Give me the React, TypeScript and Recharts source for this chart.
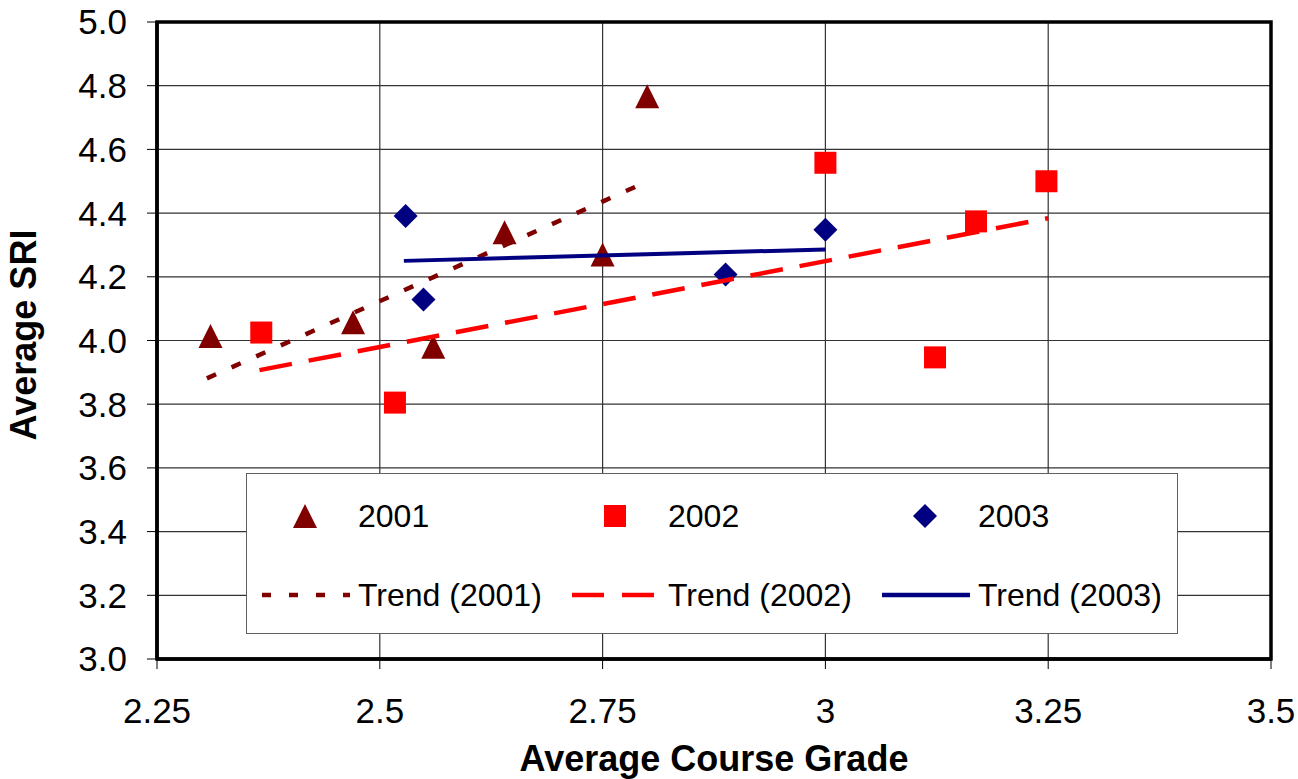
import React from 'react';
import {
  ScatterChart,
  Scatter,
  XAxis,
  YAxis,
  CartesianGrid,
  ReferenceArea,
  Label,
} from 'recharts';

// points
const grades2001 = [2.31, 2.47, 2.56, 2.64, 2.75, 2.8];
const sri2001 = [4.014, 4.057, 3.98, 4.34, 4.27, 4.767];
const grades2002 = [2.367, 2.517, 3.0, 3.123, 3.169, 3.248];
const sri2002 = [4.025, 3.805, 4.558, 3.947, 4.374, 4.5];
const grades2003 = [2.529, 2.549, 2.888, 3.0];
const sri2003 = [4.391, 4.129, 4.207, 4.348];

// trend line ends
const trendX2001 = [2.306, 2.8];
const trendY2001 = [3.881, 4.499];
const trendX2002 = [2.365, 3.25];
const trendY2002 = [3.907, 4.384];
const trendX2003 = [2.527, 3.0];
const trendY2003 = [4.25, 4.286];

const xTicks = [2.25, 2.5, 2.75, 3, 3.25, 3.5];
const yTicks = [3.0, 3.2, 3.4, 3.6, 3.8, 4.0, 4.2, 4.4, 4.6, 4.8, 5.0];

const FONT = '"Liberation Sans", Arial, Helvetica, sans-serif';
const C2001 = '#800000';
const C2002 = '#ff0000';
const C2003 = '#000080';

const toPoints = (xs: number[], ys: number[]) => xs.map((x, i) => ({ x, y: ys[i] }));

const Triangle = (props: any) => {
  const { cx, cy, fill } = props;
  return <polygon points={`${cx},${cy - 12} ${cx + 12},${cy + 12} ${cx - 12},${cy + 12}`} fill={fill} />;
};

const Square = (props: any) => {
  const { cx, cy, fill } = props;
  return <rect x={cx - 11} y={cy - 11} width={22} height={22} fill={fill} />;
};

const Diamond = (props: any) => {
  const { cx, cy, fill } = props;
  return <polygon points={`${cx},${cy - 12} ${cx + 12},${cy} ${cx},${cy + 12} ${cx - 12},${cy}`} fill={fill} />;
};

const NoDot = () => <g />;

const legendItems = [
  { label: '2001', kind: 'marker', shape: 'triangle', color: C2001, col: 0, row: 0 },
  { label: '2002', kind: 'marker', shape: 'square', color: C2002, col: 1, row: 0 },
  { label: '2003', kind: 'marker', shape: 'diamond', color: C2003, col: 2, row: 0 },
  { label: 'Trend (2001)', kind: 'line', dash: '9 18', color: C2001, col: 0, row: 1 },
  { label: 'Trend (2002)', kind: 'line', dash: '32 18', color: C2002, col: 1, row: 1 },
  { label: 'Trend (2003)', kind: 'line', dash: undefined, color: C2003, col: 2, row: 1 },
];

const LegendIcon = ({ item }: { item: any }) => {
  if (item.kind === 'line') {
    return (
      <svg width={100} height={40}>
        <line x1={4} y1={20} x2={92} y2={20} stroke={item.color} strokeWidth={4.5} strokeDasharray={item.dash} />
      </svg>
    );
  }
  const p = { cx: 47, cy: 20, fill: item.color };
  return (
    <svg width={100} height={40}>
      {item.shape === 'triangle' && <Triangle {...p} />}
      {item.shape === 'square' && <Square {...p} />}
      {item.shape === 'diamond' && <Diamond {...p} />}
    </svg>
  );
};

const ChartLegend = () => (
  <div
    style={{
      position: 'absolute',
      left: 246,
      top: 473,
      width: 932,
      height: 161,
      boxSizing: 'border-box',
      border: '1.5px solid #606060',
      background: '#fff',
      fontFamily: FONT,
      fontSize: 32,
      color: '#000',
    }}
  >
    {legendItems.map((item) => (
      <div
        key={item.label}
        style={{
          position: 'absolute',
          left: 11 + item.col * 310,
          top: (item.row === 0 ? 42 : 121) - 20,
          height: 40,
          display: 'flex',
          alignItems: 'center',
          whiteSpace: 'nowrap',
        }}
      >
        <LegendIcon item={item} />
        <span>{item.label}</span>
      </div>
    ))}
  </div>
);

const App = () => {
  return (
    <div style={{ position: 'absolute', left: 0, top: 0, width: 1298, height: 779, background: '#fff' }}>
      <ScatterChart width={1298} height={779} margin={{ top: 22, right: 27, bottom: 0, left: 0 }}>
        <CartesianGrid stroke="#333" strokeWidth={1.2} />
        <XAxis
          type="number"
          dataKey="x"
          domain={[2.25, 3.5]}
          ticks={xTicks}
          height={120}
          tickSize={10}
          tickMargin={29}
          tickLine={{ stroke: '#000' }}
          axisLine={{ stroke: '#000', strokeWidth: 3.5 }}
          tick={{ fill: '#000', fontSize: 35, fontFamily: FONT }}
        >
          <Label
            content={() => (
              <text x={714} y={771} textAnchor="middle" fontFamily={FONT} fontSize={36} fontWeight="bold" fill="#000">
                Average Course Grade
              </text>
            )}
          />
        </XAxis>
        <YAxis
          type="number"
          dataKey="y"
          domain={[3, 5]}
          ticks={yTicks}
          width={157}
          tickSize={10}
          tickMargin={20}
          tickLine={{ stroke: '#000' }}
          axisLine={{ stroke: '#000', strokeWidth: 3.5 }}
          tick={{ fill: '#000', fontSize: 35, fontFamily: FONT }}
          tickFormatter={(v: number) => v.toFixed(1)}
        >
          <Label
            content={() => (
              <text
                x={23}
                y={335}
                transform="rotate(-90 23 335)"
                textAnchor="middle"
                dominantBaseline="central"
                fontFamily={FONT}
                fontSize={36}
                fontWeight="bold"
                fill="#000"
              >
                Average SRI
              </text>
            )}
          />
        </YAxis>
        <ReferenceArea x1={2.25} x2={3.5} y1={3} y2={5} fill="none" stroke="#000" strokeWidth={3.5} ifOverflow="visible" />
        <Scatter data={toPoints(grades2001, sri2001)} fill={C2001} shape={Triangle} isAnimationActive={false} />
        <Scatter data={toPoints(grades2002, sri2002)} fill={C2002} shape={Square} isAnimationActive={false} />
        <Scatter data={toPoints(grades2003, sri2003)} fill={C2003} shape={Diamond} isAnimationActive={false} />
        <Scatter
          data={toPoints(trendX2001, trendY2001)}
          fill={C2001}
          shape={NoDot}
          line={{ stroke: C2001, strokeWidth: 4.5, strokeDasharray: '10 17' }}
          lineType="joint"
          isAnimationActive={false}
        />
        <Scatter
          data={toPoints(trendX2002, trendY2002)}
          fill={C2002}
          shape={NoDot}
          line={{ stroke: C2002, strokeWidth: 4.5, strokeDasharray: '33 17' }}
          lineType="joint"
          isAnimationActive={false}
        />
        <Scatter
          data={toPoints(trendX2003, trendY2003)}
          fill={C2003}
          shape={NoDot}
          line={{ stroke: C2003, strokeWidth: 4 }}
          lineType="joint"
          isAnimationActive={false}
        />
      </ScatterChart>
      <ChartLegend />
    </div>
  );
};

export default App;
